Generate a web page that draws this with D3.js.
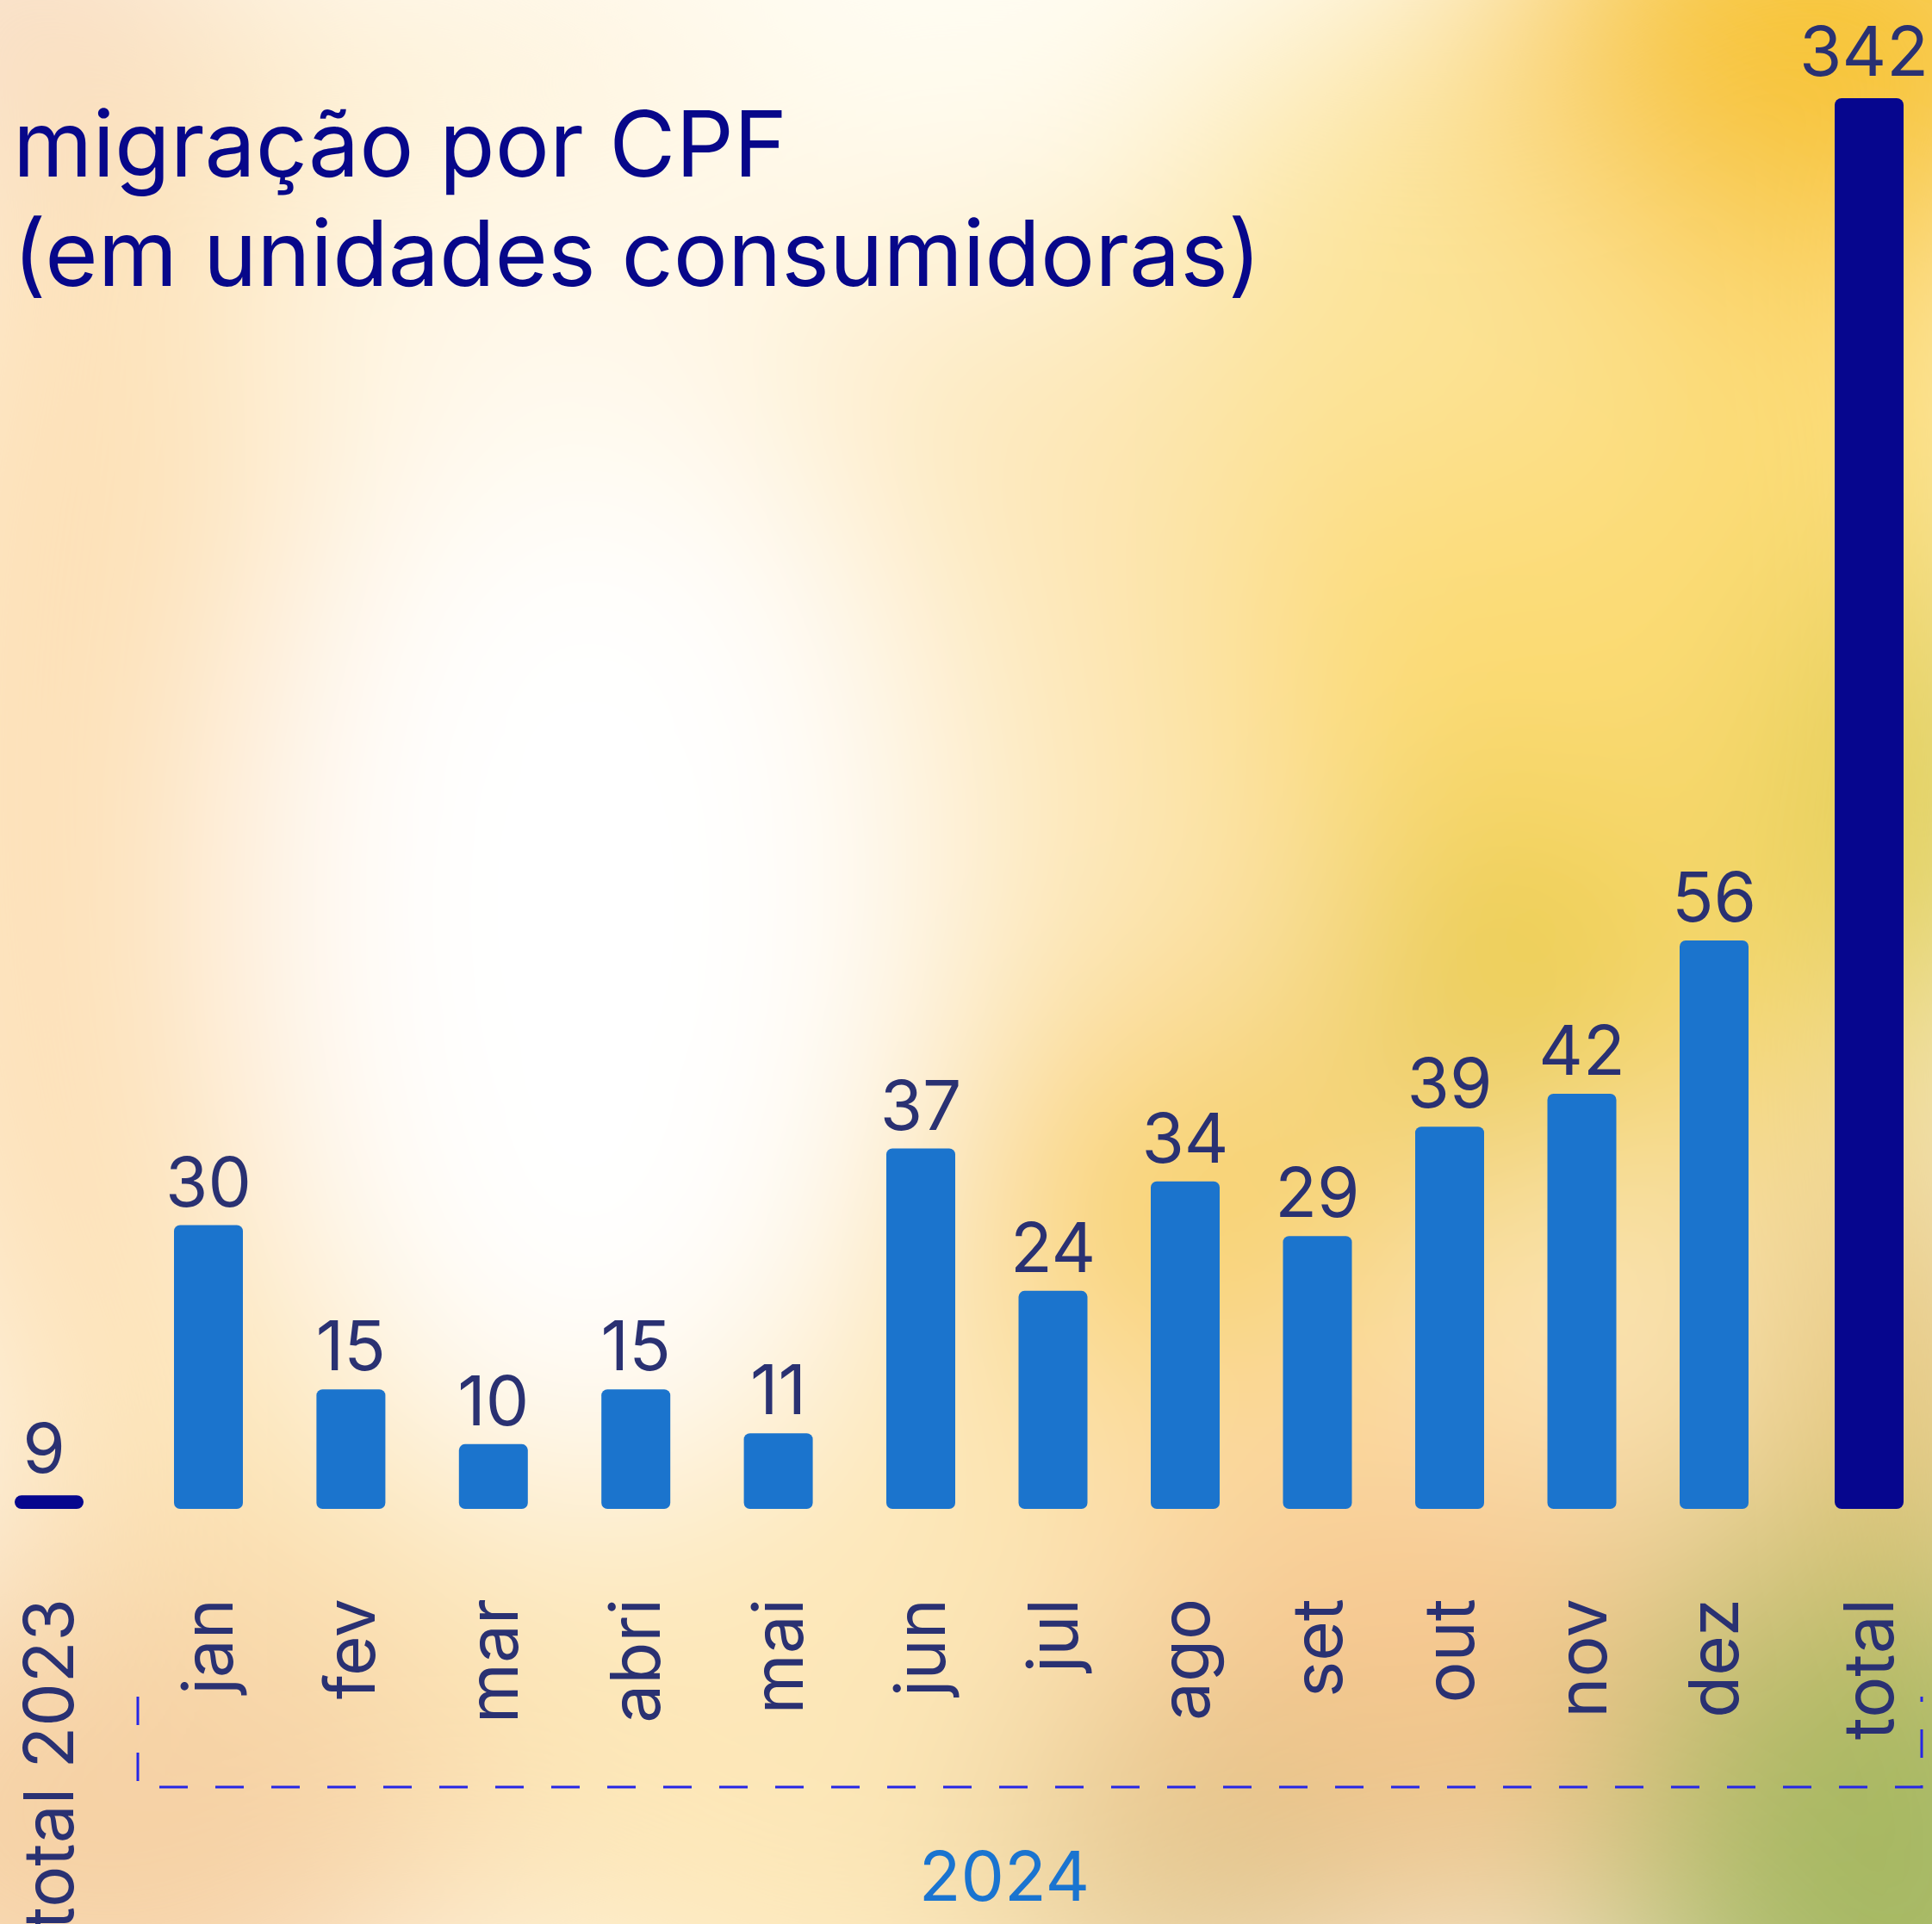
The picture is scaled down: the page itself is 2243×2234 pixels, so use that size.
<!DOCTYPE html>
<html lang="pt">
	<head>
		<meta charset="utf-8">
		<title>migração por CPF</title>
		<script type="text/javascript" src="https://d3js.org/d3.v7.min.js"></script>
		<style type="text/css">
            body{margin:0;padding:0;overflow:hidden;}
            svg{display:block;}
            text{font-family:Inter,"Noto Sans",sans-serif;}
		</style>
	</head>
	<body>
    <div id="chart1"></div>
		 <script type="text/javascript">
            // data
            var months = ["jan","fev","mar","abri","mai","jun","jul","ago","set","out","nov","dez"]
            var monthValues = [30,15,10,15,11,37,24,34,29,39,42,56]
            var totalLabels = ["total 2023","total"]
            var totalValues = [9,342]
            var yearLabel = "2024"
            var titleLines = ["migração por CPF","(em unidades consumidoras)"]

            var w = 2243
            var h = 2234
            var baseY = 1752     // bottom of bars
            var labelTop = 1856  // where the rotated labels end
            var barW = 80

            var svg = d3.select("#chart1")
                .append("svg")
                .attr("width",w)
                .attr("height",h)

            // blurred photo-like background
            var defs = svg.append("defs")
            var blur = defs.append("filter")
                .attr("id","soft")
                .attr("filterUnits","userSpaceOnUse")
                .attr("x",0).attr("y",0).attr("width",w).attr("height",h)
            blur.append("feGaussianBlur").attr("stdDeviation",140)

            var blobs = [
                {x:1120,y:1150,rx:1100,ry:1300,c:"#fde7b8"},
                {x:60,y:900,rx:260,ry:800,c:"#fde0b6"},
                {x:680,y:1050,rx:400,ry:680,c:"#ffffff"},
                {x:1150,y:70,rx:420,ry:240,c:"#fffcf0"},
                {x:620,y:330,rx:340,ry:240,c:"#fff8e8"},
                {x:1900,y:650,rx:480,ry:700,c:"#fcdb74"},
                {x:1650,y:280,rx:300,ry:280,c:"#fce49a"},
                {x:2120,y:40,rx:380,ry:260,c:"#f7c232"},
                {x:1740,y:1150,rx:170,ry:220,c:"#e5c73a"},
                {x:2243,y:950,rx:130,ry:300,c:"#d2c436"},
                {x:1380,y:1400,rx:260,ry:220,c:"#f8d068"},
                {x:1650,y:1980,rx:380,ry:320,c:"#f8c890"},
                {x:1420,y:2170,rx:260,ry:160,c:"#dcbf84"},
                {x:2200,y:2150,rx:330,ry:420,c:"#a6b862"},
                {x:2220,y:1600,rx:160,ry:300,c:"#e0be68"},
                {x:120,y:2120,rx:420,ry:320,c:"#f6d1a4"},
                {x:0,y:0,rx:260,ry:200,c:"#f8dcc0"}
            ]
            var bg = svg.append("g").attr("filter","url(#soft)")
            bg.append("rect").attr("width",w).attr("height",h).attr("fill","#fde6b6")
            bg.selectAll("ellipse")
                .data(blobs)
                .enter()
                .append("ellipse")
                .attr("cx",function(d){return d.x})
                .attr("cy",function(d){return d.y})
                .attr("rx",function(d){return d.rx})
                .attr("ry",function(d){return d.ry})
                .attr("fill",function(d){return d.c})

            // scales: months are spaced a bit tighter after jun, totals sit on their own scale
            var xIndex = d3.scaleLinear().domain([0,5,11]).range([242,1069,1990])
            var xMonth = function(m){return xIndex(months.indexOf(m))}
            var xTotal = d3.scalePoint().domain(totalLabels).range([57,2170])
            var yMonth = d3.scaleLinear().domain([0,56]).range([baseY+52,baseY-660])
            var yTotal = d3.scaleLinear().domain([0,342]).range([baseY+28,114])

            var monthData = months.map(function(m,i){return {label:m,value:monthValues[i]}})
            var totalData = totalLabels.map(function(m,i){return {label:m,value:totalValues[i]}})

            // title
            svg.selectAll(".title")
                .data(titleLines)
                .enter()
                .append("text")
                .attr("class","title")
                .attr("x",15)
                .attr("y",function(d,i){return 205+i*127})
                .attr("font-size",105.5)
                .attr("fill","#07078a")
                .text(function(d){return d})

            // month bars
            svg.selectAll(".bar")
                .data(monthData)
                .enter()
                .append("rect")
                .attr("class","bar")
                .attr("x",function(d){return xMonth(d.label)-barW/2})
                .attr("y",function(d){return yMonth(d.value)})
                .attr("width",barW)
                .attr("height",function(d){return baseY-yMonth(d.value)})
                .attr("rx",7)
                .attr("fill","#1b74cd")

            svg.selectAll(".tbar")
                .data(totalData)
                .enter()
                .append("rect")
                .attr("class","tbar")
                .attr("x",function(d){return xTotal(d.label)-barW/2})
                .attr("y",function(d){return yTotal(d.value)})
                .attr("width",barW)
                .attr("height",function(d){return baseY-yTotal(d.value)})
                .attr("rx",function(d){return Math.min(8,(baseY-yTotal(d.value))/2)})
                .attr("fill","#06068e")

            // value labels
            svg.selectAll(".val")
                .data(monthData)
                .enter()
                .append("text")
                .attr("class","val")
                .attr("x",function(d){return xMonth(d.label)})
                .attr("y",function(d){return yMonth(d.value)-22})
                .attr("text-anchor","middle")
                .attr("font-size",80)
                .attr("fill","#2a3172")
                .text(function(d){return d.value})

            svg.selectAll(".tval")
                .data(totalData)
                .enter()
                .append("text")
                .attr("class","tval")
                .attr("x",function(d){return xTotal(d.label)-6})
                .attr("y",function(d){return yTotal(d.value)-26})
                .attr("text-anchor","middle")
                .attr("font-size",80)
                .attr("fill","#2a3172")
                .text(function(d){return d.value})

            // rotated category labels
            function rotLabel(sel,xs){
                sel.append("text")
                    .attr("transform",function(d){return "translate("+xs(d.label)+","+labelTop+") rotate(-90)"})
                    .attr("dy","0.35em")
                    .attr("text-anchor","end")
                    .attr("font-size",80)
                    .attr("fill","#2a3172")
                    .text(function(d){return d.label})
            }
            rotLabel(svg.selectAll(".mlab").data(monthData).enter(),xMonth)
            rotLabel(svg.selectAll(".tlab").data(totalData).enter(),xTotal)

            // dashed bracket round the 2024 months
            var bx0 = 160, bx1 = 2231, by0 = 1970, by1 = 2075
            svg.append("path")
                .attr("d",d3.line()([[bx0,by0],[bx0,by1],[bx1,by1],[bx1,by0]]))
                .attr("fill","none")
                .attr("stroke","#2626e6")
                .attr("stroke-width",3)
                .attr("stroke-dasharray","33 32")

            svg.append("text")
                .attr("x",1166)
                .attr("y",2207)
                .attr("text-anchor","middle")
                .attr("font-size",80)
                .attr("fill","#1a74d0")
                .text(yearLabel)
		</script>
	</body>
</html>
